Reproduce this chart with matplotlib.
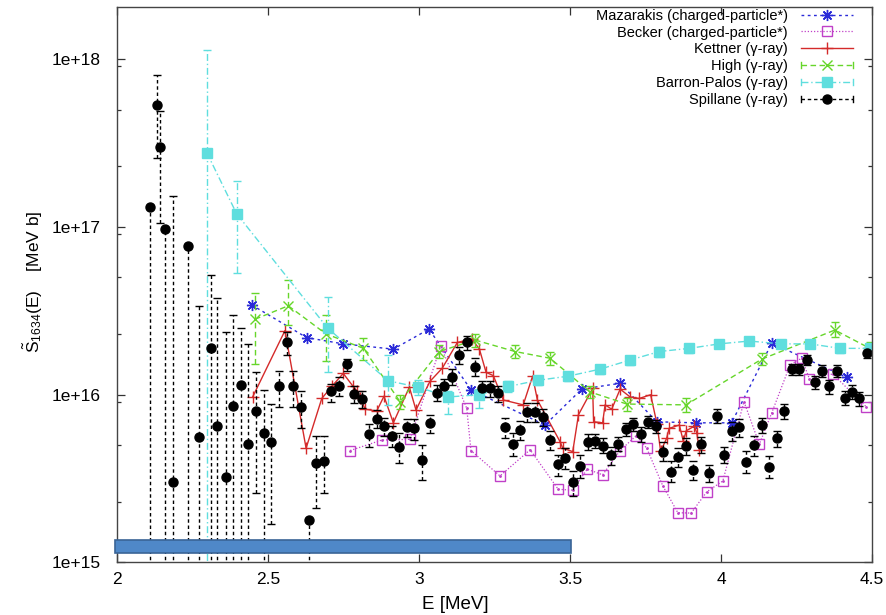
import numpy as np
import matplotlib
matplotlib.use("Agg")
import matplotlib.pyplot as plt
from matplotlib.patches import Rectangle
from matplotlib.lines import Line2D
from matplotlib.legend_handler import HandlerLine2D
from matplotlib.ticker import LogLocator, NullFormatter

plt.rcParams['font.family'] = ['Liberation Sans', 'DejaVu Sans']
plt.rcParams['mathtext.fontset'] = 'custom'
plt.rcParams['mathtext.rm'] = 'Liberation Sans'
plt.rcParams['mathtext.it'] = 'Liberation Sans:italic'

E15 = 1e15  # all S values below are in units of 1e15 MeV b

# Mazarakis (charged-particle*)
maz_x = [2.446, 2.628, 2.749, 2.915, 3.033, 3.172, 3.417, 3.539, 3.666, 3.787, 3.917, 4.035, 4.168, 4.416]
maz_y = [34.3, 21.9, 20.1, 18.7, 24.6, 10.7, 6.6, 10.8, 11.7, 6.9, 6.8, 6.8, 20.3, 12.7]

# Becker (charged-particle*)
bec_x = [2.772, 2.877, 2.970, 3.072, 3.158, 3.172, 3.268, 3.368, 3.461, 3.509, 3.557, 3.608, 3.666, 3.719,
         3.754, 3.807, 3.857, 3.901, 3.953, 4.006, 4.076, 4.127, 4.168, 4.229, 4.267, 4.293, 4.370, 4.480]
bec_y = [4.65, 5.37, 5.42, 19.5, 8.3, 4.65, 3.28, 4.7, 2.73, 2.7, 3.6, 3.33, 4.65, 5.7,
         4.8, 2.87, 1.98, 1.97, 2.64, 3.06, 9.1, 5.07, 7.8, 15.1, 16.5, 12.4, 13.3, 8.5]

# Kettner (gamma-ray)
ket_x = [2.449, 2.556, 2.626, 2.678, 2.711, 2.749, 2.782, 2.795, 2.805, 2.822,
         2.860, 2.884, 2.915, 2.968, 2.990, 3.036, 3.077, 3.127, 3.175, 3.200,
         3.222, 3.246, 3.279, 3.345, 3.376, 3.392, 3.467, 3.476, 3.509, 3.528,
         3.575, 3.578, 3.608, 3.616, 3.638, 3.666, 3.699, 3.729, 3.767, 3.788,
         3.800, 3.820, 3.828, 3.862, 3.875, 3.885, 3.912, 3.920, 3.928]
ket_y = [9.7, 24.1, 4.8, 9.5, 11.2, 13.4, 11.2, 10.5, 9.5, 8.2,
         8.0, 9.8, 6.8, 11.1, 8.1, 12.0, 14.4, 20.5, 21.5, 18.7,
         13.6, 13.0, 9.3, 8.7, 12.9, 9.3, 5.25, 4.8, 4.58, 7.6,
         10.9, 6.9, 6.8, 8.7, 8.2, 10.8, 9.7, 9.5, 10.0, 6.7,
         4.6, 5.5, 6.3, 6.6, 5.3, 6.1, 6.5, 5.9, 4.7]

# High (gamma-ray)
hig_x = [2.457, 2.567, 2.691, 2.816, 2.937, 3.067, 3.185, 3.318, 3.434, 3.566, 3.688, 3.884, 4.135, 4.377, 4.493]
hig_y = [28.2, 33.9, 23.1, 18.9, 9.1, 18.1, 21.2, 18.1, 16.5, 10.4, 8.8, 8.7, 16.3, 24.3, 18.9]
hig_lo = [15.3, 26.0, 15.9, 16.0, 8.2, 16.5, 19.3, 16.6, 15.0, 9.6, 8.0, 7.9, 15.0, 22.0, 17.5]
hig_hi = [40.6, 48.4, 29.9, 21.7, 10.0, 19.8, 23.0, 19.7, 18.0, 11.3, 9.6, 9.5, 17.8, 27.0, 20.5]

# Barron-Palos (gamma-ray)
bar_x = [2.297, 2.396, 2.697, 2.898, 2.998, 3.097, 3.200, 3.296, 3.395, 3.494,
         3.599, 3.699, 3.796, 3.895, 3.994, 4.094, 4.198, 4.295, 4.394, 4.493]
bar_y = [278, 120, 25.0, 12.1, 11.1, 9.7, 10.0, 11.2, 12.2, 12.9,
         14.2, 16.1, 18.1, 18.9, 20.1, 20.9, 20.1, 20.1, 18.9, 18.9]
bar_lo = [0.1, 53, 13.7, 8.7, 10.0, 7.7, 8.3, 10.4, 11.4, 12.1,
          13.3, 15.1, 16.9, 17.7, 18.9, 19.7, 18.9, 18.9, 17.7, 17.7]
bar_hi = [1140, 187, 38, 17.3, 12.2, 10.5, 10.8, 12.0, 13.0, 13.7,
          15.1, 17.1, 19.3, 20.1, 21.3, 22.1, 21.3, 21.3, 20.1, 20.1]

# Spillane (gamma-ray); a lower bound of 0.1 means the bar runs off the bottom
spi_x = [2.110, 2.131, 2.142, 2.160, 2.186, 2.236, 2.272, 2.310, 2.332, 2.360,
         2.385, 2.410, 2.435, 2.459, 2.485, 2.510, 2.536, 2.562, 2.584, 2.609,
         2.636, 2.660, 2.685, 2.709, 2.735, 2.760, 2.785, 2.810, 2.836, 2.860,
         2.884, 2.910, 2.935, 2.959, 2.985, 3.011, 3.036, 3.061, 3.084, 3.109,
         3.134, 3.160, 3.185, 3.210, 3.235, 3.261, 3.285, 3.310, 3.334, 3.359,
         3.384, 3.410, 3.434, 3.459, 3.484, 3.509, 3.534, 3.559, 3.584, 3.609,
         3.635, 3.660, 3.684, 3.710, 3.734, 3.759, 3.785, 3.809, 3.834, 3.859,
         3.884, 3.908, 3.933, 3.959, 3.986, 4.010, 4.035, 4.061, 4.083, 4.109,
         4.135, 4.159, 4.184, 4.209, 4.234, 4.259, 4.285, 4.310, 4.334, 4.359,
         4.383, 4.410, 4.435, 4.458, 4.483]
spi_y = [132, 530, 300, 97, 3.0, 77, 5.6, 18.9, 6.5, 3.25,
         8.6, 11.4, 5.1, 8.0, 5.9, 5.25, 11.2, 20.5, 11.3, 8.4,
         1.78, 3.94, 4.05, 10.5, 11.3, 15.2, 10.1, 9.4, 5.8, 7.2,
         6.5, 5.7, 4.9, 6.4, 6.3, 4.1, 6.8, 10.3, 11.2, 12.8,
         17.3, 20.5, 14.7, 10.9, 10.9, 10.2, 6.4, 5.1, 6.2, 7.9,
         7.9, 7.35, 5.4, 3.86, 4.2, 3.0, 3.78, 5.25, 5.3, 4.98,
         4.38, 5.1, 6.25, 6.7, 5.8, 6.9, 6.5, 4.58, 3.48, 4.24,
         4.95, 3.56, 5.07, 3.4, 7.5, 4.38, 6.1, 6.4, 3.99, 5.0,
         6.6, 3.72, 5.5, 8.0, 14.2, 14.2, 16.1, 11.9, 13.9, 11.2,
         13.9, 9.6, 10.4, 9.5, 17.7]
spi_lo = [0.1, 257, 105, 0.1, 0.1, 0.1, 0.1, 0.1, 0.1, 0.1,
          0.1, 0.1, 0.1, 2.6, 0.1, 1.7, 8.4, 17.3, 8.5, 6.3,
          0.1, 2.12, 2.6, 9.1, 9.8, 13.8, 8.9, 8.3, 4.9, 6.3,
          5.7, 4.9, 3.9, 5.6, 5.4, 3.1, 5.9, 9.2, 10.0, 11.4,
          15.3, 18.5, 12.9, 9.7, 9.7, 9.1, 5.5, 4.3, 5.4, 6.9,
          6.9, 6.5, 4.7, 3.3, 3.6, 2.5, 3.2, 4.7, 4.8, 4.5,
          3.8, 4.6, 5.7, 6.1, 5.2, 6.3, 5.9, 4.0, 3.0, 3.7,
          4.4, 3.1, 4.5, 3.0, 6.8, 3.9, 5.3, 5.6, 3.4, 4.3,
          5.9, 3.2, 4.9, 7.2, 13.2, 13.2, 15.0, 10.8, 12.8, 10.1,
          12.8, 8.7, 9.4, 8.6, 16.5]
spi_hi = [132, 807, 494, 97, 153, 77, 34, 52, 37.6, 23.6,
          30, 25, 20, 13.6, 10.6, 8.8, 13.9, 23.5, 13.9, 10.5,
          1.78, 5.7, 5.65, 11.6, 12.8, 16.4, 11.3, 10.5, 6.7, 8.1,
          7.3, 6.5, 5.9, 7.2, 7.2, 5.0, 7.6, 11.4, 12.4, 14.2,
          19.3, 22.5, 16.5, 12.1, 12.1, 11.3, 7.3, 5.9, 7.0, 8.9,
          8.9, 8.2, 6.1, 4.4, 4.8, 3.5, 4.4, 5.8, 5.8, 5.5,
          4.9, 5.6, 6.8, 7.3, 6.4, 7.5, 7.1, 5.2, 4.0, 4.8,
          5.5, 4.0, 5.6, 3.8, 8.2, 4.9, 6.9, 7.2, 4.6, 5.7,
          7.3, 4.3, 6.1, 8.8, 15.2, 15.2, 17.2, 13.0, 15.0, 12.3,
          15.0, 10.5, 11.4, 10.4, 18.9]

# highlighted energy band drawn under the data (E range and S range)
band_x = (1.994, 3.503)
band_y = (1.14, 1.37)


def yerr(y, lo, hi):
    y, lo, hi = np.array(y), np.array(lo), np.array(hi)
    return [(y - lo) * E15, (hi - y) * E15]


class CapHandler(HandlerLine2D):
    # gnuplot-style key sample: line + marker with small caps at both ends
    def create_artists(self, legend, orig_handle, xdescent, ydescent, width, height, fontsize, trans):
        arts = super().create_artists(legend, orig_handle, xdescent, ydescent, width, height, fontsize, trans)
        y = (height - ydescent) / 2.0
        h = 0.3 * height
        for x in (-xdescent, -xdescent + width):
            cap = Line2D([x, x], [y - h, y + h], color=orig_handle.get_color(), lw=1.0, transform=trans)
            arts.append(cap)
        return arts


fig = plt.figure(figsize=(8.86, 6.15), dpi=100)
ax = fig.add_axes([0.1321, 0.0854, 0.8521, 0.9033])

c_maz = '#2a2ad8'
c_bec = '#c040c8'
c_ket = '#d42a2a'
c_hig = '#66d62a'
c_bar = '#5fdede'
c_spi = 'black'

ls_hig = (0, (4, 2.5))
ls_bar = (0, (5, 2, 1, 2))
ls_spi = (0, (2.5, 2))

h_maz, = ax.plot(maz_x, np.array(maz_y) * E15, color=c_maz, ls=(0, (2, 2.5)), lw=1.0,
                 marker=(8, 2, 0), ms=8, mew=1.0, label='Mazarakis (charged-particle*)')
h_bec, = ax.plot(bec_x, np.array(bec_y) * E15, color=c_bec, ls=(0, (1, 1.5)), lw=0.9,
                 marker='s', ms=7.5, mfc='none', mew=1.0, label='Becker (charged-particle*)')
ax.plot(bec_x, np.array(bec_y) * E15, ls='none', marker='.', ms=2, color=c_bec)
h_ket, = ax.plot(ket_x, np.array(ket_y) * E15, color=c_ket, ls='-', lw=1.0,
                 marker='+', ms=9, mew=1.0, label='Kettner (\u03b3-ray)')

eb = ax.errorbar(hig_x, np.array(hig_y) * E15, yerr=yerr(hig_y, hig_lo, hig_hi),
                 color=c_hig, ls=ls_hig, lw=1.0, marker='x', ms=7, mew=1.0,
                 capsize=3, elinewidth=1.0)
eb[2][0].set_linestyle(ls_hig)
eb = ax.errorbar(bar_x, np.array(bar_y) * E15, yerr=yerr(bar_y, bar_lo, bar_hi),
                 color=c_bar, ls=ls_bar, lw=1.0, marker='s', ms=7,
                 capsize=3, elinewidth=1.0)
eb[2][0].set_linestyle(ls_bar)
eb = ax.errorbar(spi_x, np.array(spi_y) * E15, yerr=yerr(spi_y, spi_lo, spi_hi),
                 color=c_spi, ls='none', marker='o', ms=6.5,
                 capsize=3, elinewidth=1.0)
eb[2][0].set_linestyle(ls_spi)

h_hig = Line2D([], [], color=c_hig, ls=ls_hig, lw=1.0, marker='x', ms=7, mew=1.0, label='High (\u03b3-ray)')
h_bar = Line2D([], [], color=c_bar, ls=ls_bar, lw=1.0, marker='s', ms=7, label='Barron-Palos (\u03b3-ray)')
h_spi = Line2D([], [], color=c_spi, ls=ls_spi, lw=1.0, marker='o', ms=6.5, label='Spillane (\u03b3-ray)')

ax.add_patch(Rectangle((band_x[0], band_y[0] * E15), band_x[1] - band_x[0],
                       (band_y[1] - band_y[0]) * E15, facecolor='#4f88c8',
                       edgecolor='#3a6496', lw=1.2, zorder=5, clip_on=False))

ax.set_yscale('log')
ax.set_xlim(2, 4.5)
ax.set_ylim(1e15, 2.05e18)
ax.set_xticks([2, 2.5, 3, 3.5, 4, 4.5], ['2', '2.5', '3', '3.5', '4', '4.5'])
ax.set_yticks([1e15, 1e16, 1e17, 1e18], ['1e+15', '1e+16', '1e+17', '1e+18'])
ax.yaxis.set_minor_locator(LogLocator(base=10, subs=(2.3, 5.0, 9.1)))
ax.yaxis.set_minor_formatter(NullFormatter())
ax.tick_params(which='both', direction='in', top=True, right=True, labelsize=12.5,
               color='#333333', width=0.9)
ax.tick_params(which='major', length=6)
ax.tick_params(axis='y', which='major', pad=12)
ax.tick_params(axis='x', which='major', pad=7)
ax.tick_params(which='minor', length=3)
for s in ax.spines.values():
    s.set_color('#444444')
    s.set_linewidth(1.0)

ax.set_xlabel('E [MeV]', fontsize=13.5)
ax.xaxis.set_label_coords(0.448, -0.06)
ax.set_ylabel(r'$\tilde{\mathrm{S}}_{1634}$(E)    [MeV b]', fontsize=12.5)
ax.yaxis.set_label_coords(-0.095, 0.505)

hm = CapHandler()
ax.legend(handles=[h_maz, h_bec, h_ket, h_hig, h_bar, h_spi], loc='upper right',
          bbox_to_anchor=(0.975, 0.997), frameon=False, markerfirst=False,
          fontsize=10.5, handlelength=3.6, handletextpad=0.9, labelspacing=0.2,
          borderpad=0.0, borderaxespad=0.0,
          handler_map={h_hig: hm, h_bar: hm, h_spi: hm})

fig.savefig('out.png', dpi=100)
